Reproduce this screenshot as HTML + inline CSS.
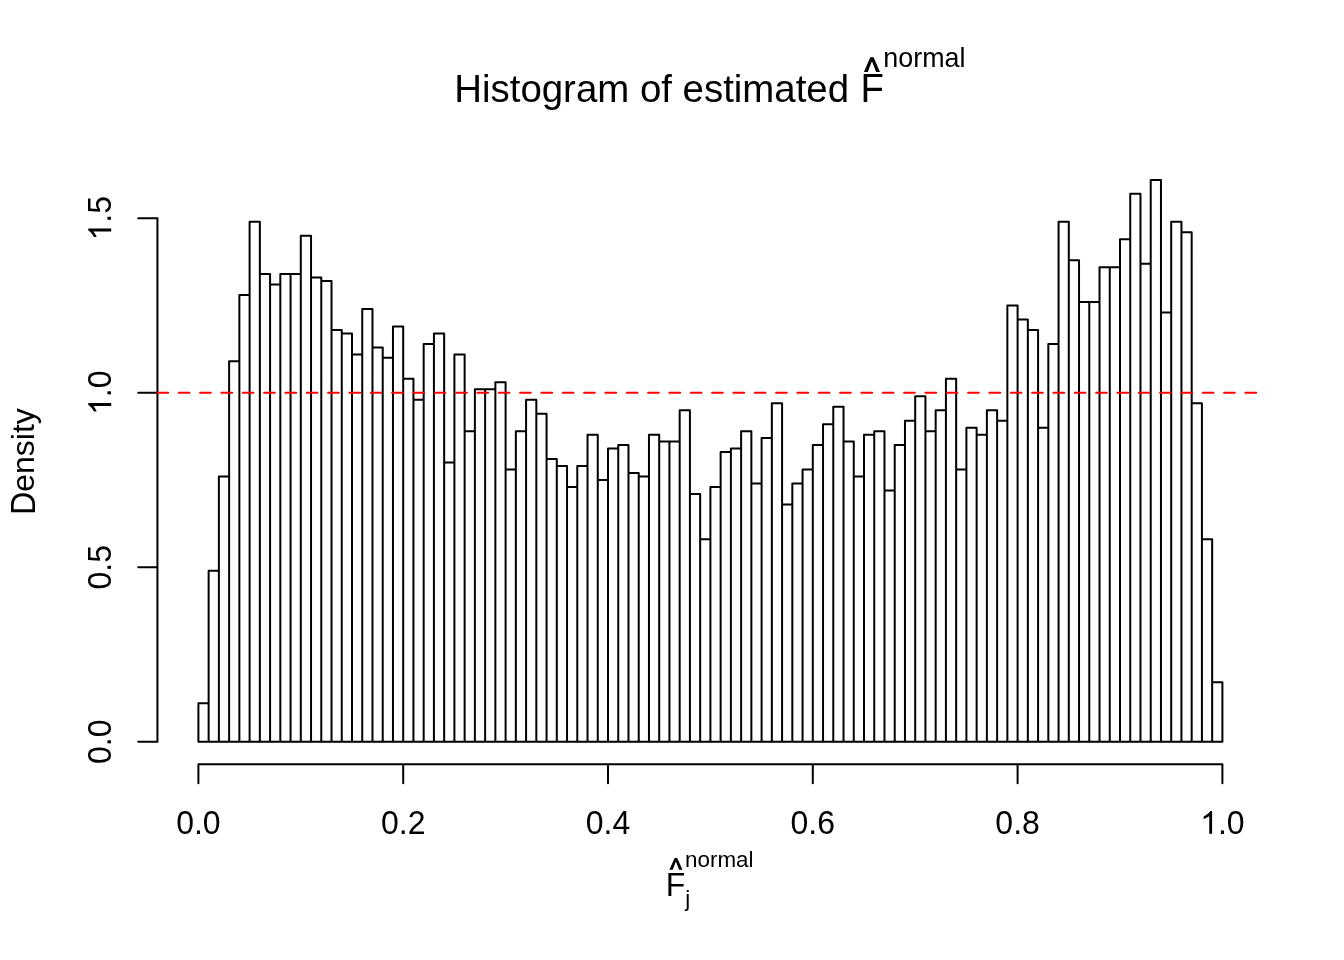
<!DOCTYPE html>
<html><head><meta charset="utf-8"><style>
html,body{margin:0;padding:0;background:#fff;}
svg{display:block;will-change:transform;}
text{font-family:"Liberation Sans",sans-serif;fill:#000;}
</style></head><body>
<svg width="1344" height="960" viewBox="0 0 1344 960">
<rect width="1344" height="960" fill="#fff"/>
<path d="M198.4 741.69V703.31H208.64V741.69ZM208.64 741.69V570.71H218.88V741.69ZM218.88 741.69V476.5H229.12V741.69ZM229.12 741.69V361.36H239.36V741.69ZM239.36 741.69V295.06H249.6V741.69ZM249.6 741.69V221.78H259.84V741.69ZM259.84 741.69V274.12H270.08V741.69ZM270.08 741.69V284.59H280.32V741.69ZM280.32 741.69V274.12H290.56V741.69ZM290.56 741.69V274.12H300.8V741.69ZM300.8 741.69V235.74H311.04V741.69ZM311.04 741.69V277.61H321.28V741.69ZM321.28 741.69V281.1H331.52V741.69ZM331.52 741.69V329.95H341.76V741.69ZM341.76 741.69V333.44H352.0V741.69ZM352.0 741.69V354.38H362.24V741.69ZM362.24 741.69V309.02H372.48V741.69ZM372.48 741.69V347.4H382.72V741.69ZM382.72 741.69V357.87H392.96V741.69ZM392.96 741.69V326.46H403.2V741.69ZM403.2 741.69V378.8H413.44V741.69ZM413.44 741.69V399.74H423.68V741.69ZM423.68 741.69V343.91H433.92V741.69ZM433.92 741.69V333.44H444.16V741.69ZM444.16 741.69V462.55H454.4V741.69ZM454.4 741.69V354.38H464.64V741.69ZM464.64 741.69V431.14H474.88V741.69ZM474.88 741.69V389.27H485.12V741.69ZM485.12 741.69V389.27H495.36V741.69ZM495.36 741.69V382.29H505.6V741.69ZM505.6 741.69V469.52H515.84V741.69ZM515.84 741.69V431.14H526.08V741.69ZM526.08 741.69V399.74H536.32V741.69ZM536.32 741.69V413.7H546.56V741.69ZM546.56 741.69V459.06H556.8V741.69ZM556.8 741.69V466.04H567.04V741.69ZM567.04 741.69V486.97H577.28V741.69ZM577.28 741.69V466.04H587.52V741.69ZM587.52 741.69V434.63H597.76V741.69ZM597.76 741.69V479.99H608.0V741.69ZM608.0 741.69V448.59H618.24V741.69ZM618.24 741.69V445.1H628.48V741.69ZM628.48 741.69V473.01H638.72V741.69ZM638.72 741.69V476.5H648.96V741.69ZM648.96 741.69V434.63H659.2V741.69ZM659.2 741.69V441.61H669.44V741.69ZM669.44 741.69V441.61H679.68V741.69ZM679.68 741.69V410.21H689.92V741.69ZM689.92 741.69V493.95H700.16V741.69ZM700.16 741.69V539.31H710.4V741.69ZM710.4 741.69V486.97H720.64V741.69ZM720.64 741.69V452.08H730.88V741.69ZM730.88 741.69V448.59H741.12V741.69ZM741.12 741.69V431.14H751.36V741.69ZM751.36 741.69V483.48H761.6V741.69ZM761.6 741.69V438.12H771.84V741.69ZM771.84 741.69V403.23H782.08V741.69ZM782.08 741.69V504.42H792.32V741.69ZM792.32 741.69V483.48H802.56V741.69ZM802.56 741.69V469.52H812.8V741.69ZM812.8 741.69V445.1H823.04V741.69ZM823.04 741.69V424.16H833.28V741.69ZM833.28 741.69V406.72H843.52V741.69ZM843.52 741.69V441.61H853.76V741.69ZM853.76 741.69V476.5H864.0V741.69ZM864.0 741.69V434.63H874.24V741.69ZM874.24 741.69V431.14H884.48V741.69ZM884.48 741.69V490.46H894.72V741.69ZM894.72 741.69V445.1H904.96V741.69ZM904.96 741.69V420.67H915.2V741.69ZM915.2 741.69V396.25H925.44V741.69ZM925.44 741.69V431.14H935.68V741.69ZM935.68 741.69V410.21H945.92V741.69ZM945.92 741.69V378.8H956.16V741.69ZM956.16 741.69V469.52H966.4V741.69ZM966.4 741.69V427.65H976.64V741.69ZM976.64 741.69V434.63H986.88V741.69ZM986.88 741.69V410.21H997.12V741.69ZM997.12 741.69V420.67H1007.36V741.69ZM1007.36 741.69V305.53H1017.6V741.69ZM1017.6 741.69V319.48H1027.84V741.69ZM1027.84 741.69V329.95H1038.08V741.69ZM1038.08 741.69V427.65H1048.32V741.69ZM1048.32 741.69V343.91H1058.56V741.69ZM1058.56 741.69V221.78H1068.8V741.69ZM1068.8 741.69V260.17H1079.04V741.69ZM1079.04 741.69V302.04H1089.28V741.69ZM1089.28 741.69V302.04H1099.52V741.69ZM1099.52 741.69V267.15H1109.76V741.69ZM1109.76 741.69V267.15H1120.0V741.69ZM1120.0 741.69V239.23H1130.24V741.69ZM1130.24 741.69V193.87H1140.48V741.69ZM1140.48 741.69V263.66H1150.72V741.69ZM1150.72 741.69V179.91H1160.96V741.69ZM1160.96 741.69V312.51H1171.2V741.69ZM1171.2 741.69V221.78H1181.44V741.69ZM1181.44 741.69V232.25H1191.68V741.69ZM1191.68 741.69V403.23H1201.92V741.69ZM1201.92 741.69V539.31H1212.16V741.69ZM1212.16 741.69V682.37H1222.4V741.69Z" fill="none" stroke="#000" stroke-width="2" stroke-linejoin="round" stroke-linecap="round"/>
<path d="M157.44 741.69V218.3M157.44 741.69H138.24M157.44 567.23H138.24M157.44 392.76H138.24M157.44 218.3H138.24M198.4 764.16H1222.4M198.4 764.16V783.36M403.2 764.16V783.36M608.0 764.16V783.36M812.8 764.16V783.36M1017.6 764.16V783.36M1222.4 764.16V783.36" fill="none" stroke="#000" stroke-width="2" stroke-linejoin="round" stroke-linecap="round"/>
<path d="M157.44 392.76H1263.36" fill="none" stroke="#f00" stroke-width="2" stroke-dasharray="10.6667 10.6667" stroke-linecap="round"/>
<g font-size="32" fill="#000"><g transform="translate(198.4 833.8)"><text x="-22.24" y="0" transform="scale(1 1.04)">0.0</text></g><g transform="translate(403.2 833.8)"><text x="-22.24" y="0" transform="scale(1 1.04)">0.2</text></g><g transform="translate(608.0 833.8)"><text x="-22.24" y="0" transform="scale(1 1.04)">0.4</text></g><g transform="translate(812.8 833.8)"><text x="-22.24" y="0" transform="scale(1 1.04)">0.6</text></g><g transform="translate(1017.6 833.8)"><text x="-22.24" y="0" transform="scale(1 1.04)">0.8</text></g><g transform="translate(1222.4 833.8)"><path transform="translate(-22.24 0) scale(0.015625 -0.015625)" d="M763 0L583 0L583 1147Q518 1085 412 1023Q306 961 222 930L222 1104Q373 1175 486 1276Q599 1377 646 1466L763 1466Z"/><text x="-4.45" y="0" transform="scale(1 1.04)">.0</text></g><g transform="translate(111.2 741.69) rotate(-90)"><text x="-22.24" y="0" transform="scale(1 1.04)">0.0</text></g><g transform="translate(111.2 567.23) rotate(-90)"><text x="-22.24" y="0" transform="scale(1 1.04)">0.5</text></g><g transform="translate(111.2 392.76) rotate(-90)"><path transform="translate(-22.24 0) scale(0.015625 -0.015625)" d="M763 0L583 0L583 1147Q518 1085 412 1023Q306 961 222 930L222 1104Q373 1175 486 1276Q599 1377 646 1466L763 1466Z"/><text x="-4.45" y="0" transform="scale(1 1.04)">.0</text></g><g transform="translate(111.2 218.3) rotate(-90)"><path transform="translate(-22.24 0) scale(0.015625 -0.015625)" d="M763 0L583 0L583 1147Q518 1085 412 1023Q306 961 222 930L222 1104Q373 1175 486 1276Q599 1377 646 1466L763 1466Z"/><text x="-4.45" y="0" transform="scale(1 1.04)">.5</text></g>
<g transform="translate(35.3 461.5) rotate(-90)"><text x="-53.35" y="0" transform="scale(1 1.085)">D</text></g><g transform="translate(34.2 461.5) rotate(-90)"><text x="-30.24" y="0">ensity</text></g>
</g>
<g id="title">
<text x="454.3" y="101.9" font-size="38.4">Histogram of estimated</text>
<text transform="translate(860.5 101.9) scale(1 1.04)" font-size="38.4">F</text>
<text x="883.3" y="67.1" font-size="26.88">normal</text>
<path d="M863.9 71.9L870.2 57.6Q871.95 56.2 873.7 57.6L880 71.9L876.1 71.9L871.95 61.3L867.8 71.9Z" fill="#000"/>
</g>
<g id="xlab">
<text transform="translate(665.8 895.6) scale(1 1.04)" font-size="32">F</text>
<text x="685.1" y="867.1" font-size="22.4">normal</text>
<text x="685.2" y="906" font-size="22.4">j</text>
<path d="M669.4 869.8L674.5 858.3Q675.9 857.2 677.3 858.3L682.5 869.8L679.1 869.8L675.9 861.6L672.7 869.8Z" fill="#000"/>
</g>
</svg>
</body></html>
